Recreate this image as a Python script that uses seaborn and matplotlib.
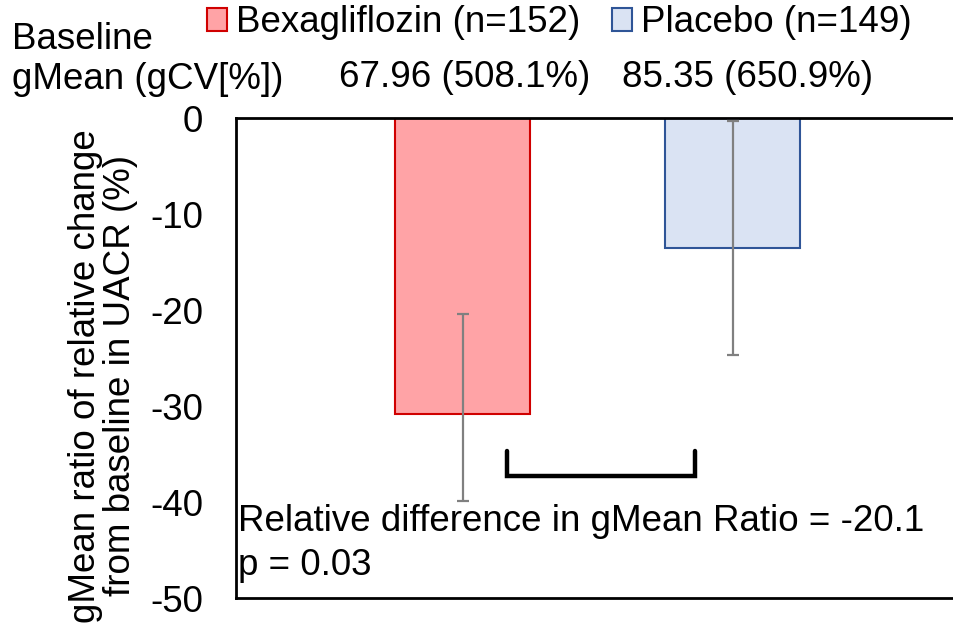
import matplotlib
matplotlib.use("Agg")
import matplotlib.pyplot as plt
import seaborn as sns
import pandas as pd
from matplotlib.patches import Patch

# ---- data ----
groups = ["Bexagliflozin (n=152)", "Placebo (n=149)"]
gmean_ratio = [-30.8, -13.5]
ci_lower = [-39.9, -24.7]
ci_upper = [-20.4, -0.3]
baseline_values = ["67.96 (508.1%)", "85.35 (650.9%)"]
y_ticks = [0, -10, -20, -30, -40, -50]
fill_colors = ["#FFA3A6", "#DAE3F3"]
edge_colors = ["#D00000", "#2F5597"]
annotation = ["Relative difference in gMean Ratio = -20.1", "p = 0.03"]

sns.set_theme(style="white")
plt.rcParams["font.family"] = ["Liberation Sans", "DejaVu Sans"]
plt.rcParams["axes.unicode_minus"] = False
for k in ["text.color", "axes.labelcolor", "xtick.color", "ytick.color"]:
    plt.rcParams[k] = "black"
FS = 26.5

df = pd.DataFrame({"group": groups, "value": gmean_ratio})

fig = plt.figure(figsize=(9.54, 6.32), dpi=100)
ax = fig.add_axes([236 / 954, 1 - 598 / 632, 718 / 954, 480 / 632])

sns.barplot(data=df, x="group", y="value", hue="group", palette=fill_colors,
            width=0.5, ax=ax, legend=False, saturation=1)
for patch, ec in zip(ax.patches, edge_colors):
    patch.set_edgecolor(ec)
    patch.set_linewidth(1.5)

xs = list(range(len(groups)))
yerr = [[m - lo for m, lo in zip(gmean_ratio, ci_lower)],
        [hi - m for m, hi in zip(gmean_ratio, ci_upper)]]
ax.errorbar(xs, gmean_ratio, yerr=yerr, fmt="none", ecolor="#808080",
            elinewidth=1.6, capsize=4.5, capthick=1.6, zorder=5)

ax.set_ylim(-50, 0)
ax.set_xlim(-0.84, 1.82)
ax.set_yticks(y_ticks)
ax.set_yticklabels([str(t) for t in y_ticks], fontsize=FS)
ax.tick_params(axis="y", length=0, pad=23.5)
ax.set_xticks([])
ax.set_xlabel("")
ax.set_ylabel("gMean ratio of relative change\nfrom baseline in UACR (%)",
              fontsize=FS, linespacing=1.0)
ax.yaxis.set_label_coords(-0.136, 0.4625)

for side in ["top", "bottom", "left"]:
    ax.spines[side].set_visible(True)
    ax.spines[side].set_color("black")
    ax.spines[side].set_linewidth(2)
ax.spines["right"].set_visible(False)

# bracket
bx0, bx1 = 0.163, 0.859
ax.plot([bx0, bx0, bx1, bx1], [-34.7, -37.3, -37.3, -34.7], color="black",
        lw=3.2, solid_joinstyle="miter", zorder=6)

# annotation text
ax.text(0.003, -42.0, annotation[0], transform=ax.get_yaxis_transform(),
        fontsize=FS, va="center", ha="left")
ax.text(0.003, -46.6, annotation[1], transform=ax.get_yaxis_transform(),
        fontsize=FS, va="center", ha="left")

# legend
handles = [Patch(facecolor=fc, edgecolor=ec, linewidth=1.5)
           for fc, ec in zip(fill_colors, edge_colors)]
fig.legend(handles, groups, loc="center left", bbox_to_anchor=(207 / 954, 1 - 23 / 632),
           ncol=2, frameon=False, fontsize=FS, handlelength=0.55, handleheight=0.6,
           handletextpad=0.25, columnspacing=0.85, borderaxespad=0, borderpad=0)

# baseline row
fig.text(12 / 954, 1 - 49 / 632, "Baseline", fontsize=FS, ha="left", va="baseline")
fig.text(12 / 954, 1 - 89 / 632, "gMean (gCV[%])", fontsize=FS, ha="left", va="baseline")
for cx, lab in zip([465, 747], baseline_values):
    fig.text(cx / 954, 1 - 87 / 632, lab, fontsize=FS, ha="center", va="baseline")

fig.savefig("out.png", dpi=100)
